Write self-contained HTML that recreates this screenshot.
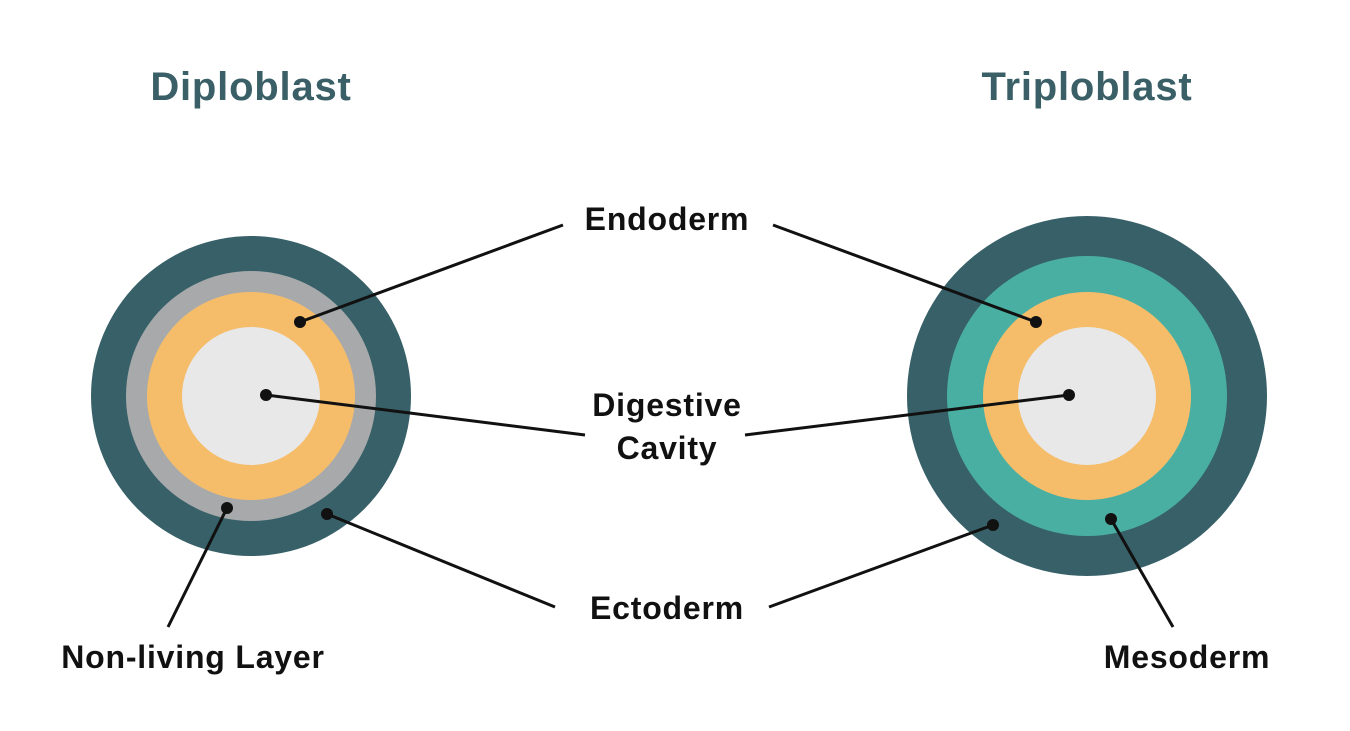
<!DOCTYPE html>
<html><head><meta charset="utf-8"><style>
html,body{margin:0;padding:0;background:#fff;}
svg{display:block;}
text{font-family:"Liberation Sans",sans-serif;font-weight:bold;}
</style></head><body>
<svg width="1350" height="731" viewBox="0 0 1350 731">
<rect x="0" y="0" width="1350" height="731" fill="#fff"/>
<text x="251" y="100" font-size="40" letter-spacing="0.8" fill="#3a5f66" text-anchor="middle">Diploblast</text>
<text x="1087" y="100" font-size="40" letter-spacing="0.8" fill="#3a5f66" text-anchor="middle">Triploblast</text>
<circle cx="251" cy="396" r="160" fill="#386068"/>
<circle cx="251" cy="396" r="125" fill="#a7a9ab"/>
<circle cx="251" cy="396" r="104" fill="#f5bd6a"/>
<circle cx="251" cy="396" r="69" fill="#e8e8e8"/>
<circle cx="1087" cy="396" r="180" fill="#386068"/>
<circle cx="1087" cy="396" r="140" fill="#4aafa3"/>
<circle cx="1087" cy="396" r="104" fill="#f5bd6a"/>
<circle cx="1087" cy="396" r="69" fill="#e8e8e8"/>
<g stroke="#111" stroke-width="3" fill="none">
<line x1="300" y1="322" x2="563" y2="225"/>
<line x1="773" y1="225" x2="1036" y2="322"/>
<line x1="266" y1="395" x2="585" y2="435"/>
<line x1="1069" y1="395" x2="745" y2="435"/>
<line x1="327" y1="514" x2="555" y2="607"/>
<line x1="769" y1="607" x2="993" y2="525"/>
<line x1="227" y1="508" x2="168" y2="627"/>
<line x1="1111" y1="519" x2="1173" y2="627"/>
</g>
<g fill="#111">
<circle cx="300" cy="322" r="6"/><circle cx="1036" cy="322" r="6"/>
<circle cx="266" cy="395" r="6"/><circle cx="1069" cy="395" r="6"/>
<circle cx="327" cy="514" r="6"/><circle cx="993" cy="525" r="6"/>
<circle cx="227" cy="508" r="6"/><circle cx="1111" cy="519" r="6"/>
</g>
<g font-size="32" letter-spacing="0.8" fill="#111" text-anchor="middle">
<text x="667" y="230">Endoderm</text>
<text x="667" y="416">Digestive</text>
<text x="667" y="459">Cavity</text>
<text x="667" y="619">Ectoderm</text>
<text x="193" y="668">Non-living Layer</text>
<text x="1187" y="668">Mesoderm</text>
</g>
</svg>
</body></html>
